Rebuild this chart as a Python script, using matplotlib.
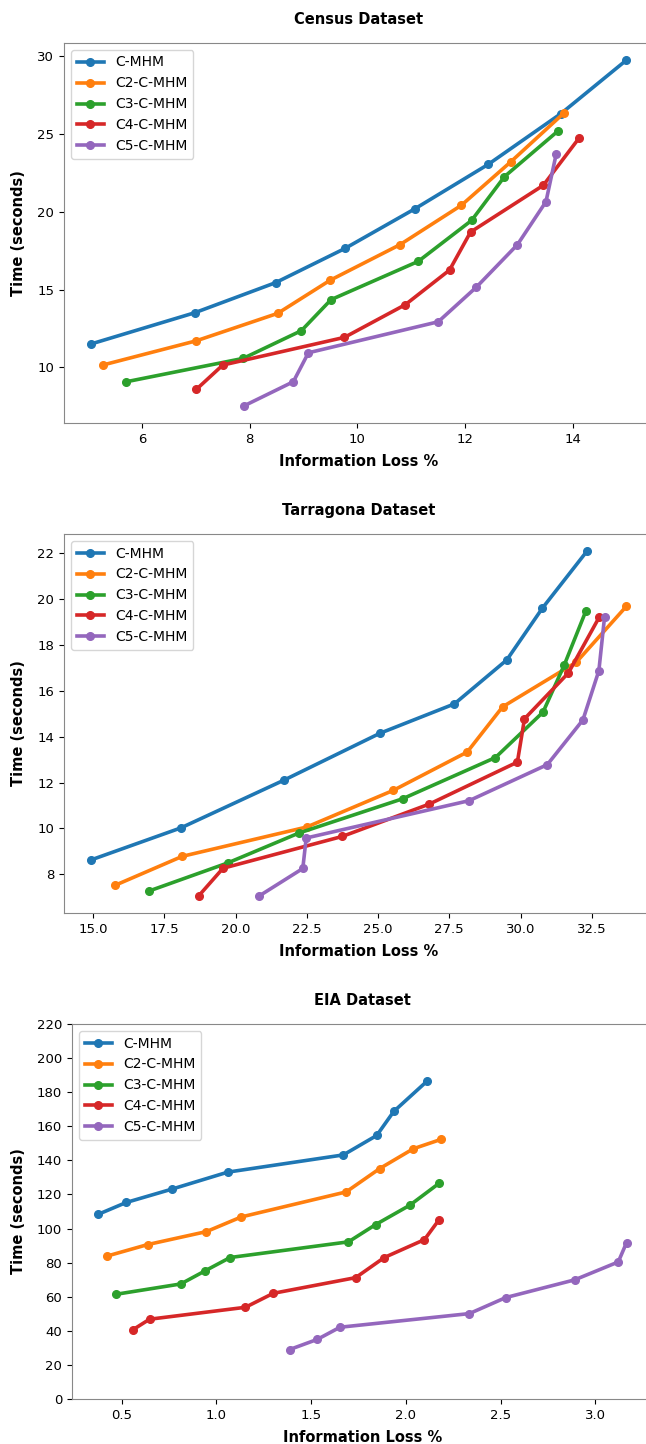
import matplotlib
matplotlib.use("Agg")
import matplotlib.pyplot as plt

# ---------------------------------------------------------------------------
# Data
# ---------------------------------------------------------------------------
METHODS = ["C-MHM", "C2-C-MHM", "C3-C-MHM", "C4-C-MHM", "C5-C-MHM"]
COLORS = ["tab:blue", "tab:orange", "tab:green", "tab:red", "tab:purple"]

# Census
census_x = [
    [5.05, 6.98, 8.48, 9.77, 11.07, 12.43, 13.78, 14.99],
    [5.27, 7.01, 8.52, 9.49, 10.79, 11.93, 12.85, 13.83],
    [5.71, 7.88, 8.96, 9.51, 11.13, 12.12, 12.73, 13.73],
    [7.01, 7.50, 9.76, 10.89, 11.71, 12.10, 13.45, 14.12],
    [7.90, 8.81, 9.09, 11.50, 12.21, 12.97, 13.50, 13.69],
]
census_y = [
    [11.50, 13.51, 15.44, 17.64, 20.19, 23.04, 26.30, 29.72],
    [10.15, 11.71, 13.47, 15.59, 17.88, 20.41, 23.21, 26.32],
    [9.08, 10.58, 12.36, 14.35, 16.81, 19.44, 22.25, 25.20],
    [8.59, 10.15, 11.93, 14.03, 16.25, 18.69, 21.69, 24.75],
    [7.54, 9.08, 10.94, 12.93, 15.16, 17.88, 20.64, 23.70],
]

# Tarragona
tarragona_x = [
    [14.92, 18.08, 21.71, 25.07, 27.68, 29.52, 30.77, 32.33],
    [15.78, 18.13, 22.50, 25.54, 28.13, 29.37, 31.96, 33.71],
    [16.97, 19.72, 22.21, 25.86, 29.12, 30.79, 31.53, 32.29],
    [18.71, 19.56, 23.75, 26.80, 29.89, 30.14, 31.68, 32.77],
    [20.84, 22.36, 22.48, 28.20, 30.94, 32.19, 32.75, 32.95],
]
tarragona_y = [
    [8.62, 10.02, 12.11, 14.15, 15.43, 17.35, 19.61, 22.09],
    [7.52, 8.78, 10.06, 11.66, 13.33, 15.30, 17.25, 19.68],
    [7.27, 8.49, 9.79, 11.29, 13.09, 15.07, 17.11, 19.47],
    [7.06, 8.26, 9.65, 11.06, 12.89, 14.78, 16.78, 19.23],
    [7.06, 8.25, 9.58, 11.21, 12.78, 14.73, 16.88, 19.23],
]

# EIA
eia_x = [
    [0.377, 0.524, 0.764, 1.06, 1.67, 1.846, 1.936, 2.112],
    [0.421, 0.637, 0.947, 1.131, 1.685, 1.862, 2.039, 2.188],
    [0.468, 0.812, 0.937, 1.072, 1.697, 1.840, 2.021, 2.176],
    [0.56, 0.647, 1.153, 1.30, 1.735, 1.886, 2.098, 2.176],
    [1.386, 1.533, 1.652, 2.335, 2.527, 2.891, 3.121, 3.165],
]
eia_y = [
    [108.4, 115.3, 123.1, 133.1, 143.2, 154.6, 168.7, 186.5],
    [83.8, 90.6, 98.2, 106.8, 121.5, 135.2, 146.8, 152.4],
    [61.4, 67.5, 75.0, 83.0, 92.2, 102.3, 113.7, 126.6],
    [40.7, 46.8, 53.8, 62.0, 71.2, 83.0, 93.5, 105.3],
    [29.0, 35.0, 42.1, 50.1, 59.5, 69.9, 80.4, 91.8],
]

W, H = 646, 1444


def _axes_rect(left, right, top, bottom):
    return [left / W, 1 - bottom / H, (right - left) / W, (bottom - top) / H]


def _draw_panel(ax, title, xs, ys):
    for name, color, x, y in zip(METHODS, COLORS, xs, ys):
        ax.plot(x, y, marker="o", color=color, lw=2.6, ms=5.5, label=name)
    ax.set_title(title, fontsize=10.5, fontweight="bold", pad=14)
    ax.set_xlabel("Information Loss %", fontsize=10.5, fontweight="bold",
                  labelpad=6)
    ax.set_ylabel("Time (seconds)", fontsize=10.5, fontweight="bold",
                  labelpad=8)
    ax.tick_params(labelsize=9.5)
    for s in ax.spines.values():
        s.set_color("#888888")
    ax.legend(loc="upper left", fontsize=10)


fig = plt.figure(figsize=(W / 100, H / 100), dpi=100)

ax1 = fig.add_axes(_axes_rect(64, 653, 43, 423))
_draw_panel(ax1, "Census Dataset", census_x, census_y)

ax2 = fig.add_axes(_axes_rect(64, 653, 534, 913))
_draw_panel(ax2, "Tarragona Dataset", tarragona_x, tarragona_y)

ax3 = fig.add_axes(_axes_rect(72, 653, 1024, 1399))
_draw_panel(ax3, "EIA Dataset", eia_x, eia_y)
ax3.set_ylim(0, 220)
ax3.set_yticks(range(0, 221, 20))

fig.savefig("out.png", dpi=100)
